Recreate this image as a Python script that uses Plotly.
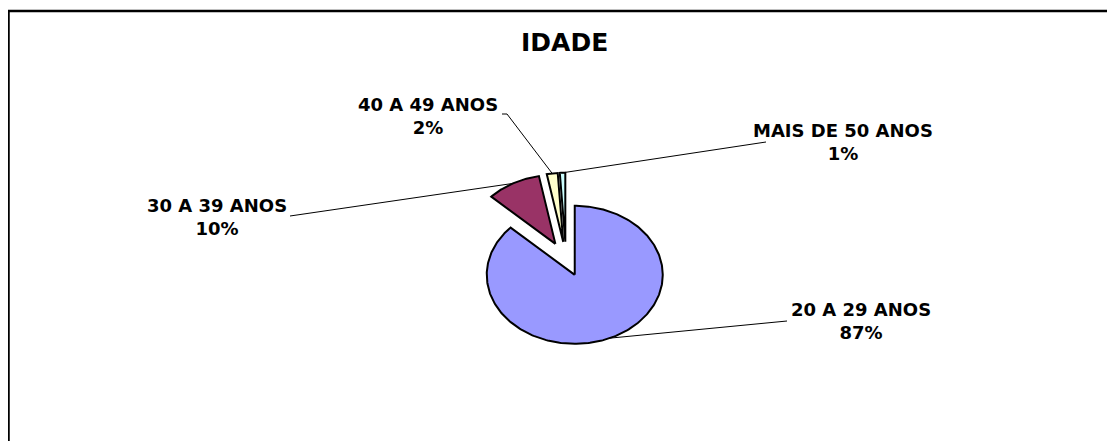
import math
import plotly.graph_objects as go

# ---- data ----
categories = ["20 A 29 ANOS", "30 A 39 ANOS", "40 A 49 ANOS", "MAIS DE 50 ANOS"]
values = [87, 10, 2, 1]
title_text = "IDADE"

# ---- styles ----
colors = ["#9999FF", "#993366", "#FFFFCC", "#CCFFFF"]
FONT = "DejaVu Sans"

# ---- layout (page pixel space) ----
W, H = 1115, 441
PAGE_OFF = 8               # default body margin of the html page
CX, CY = 566, 259          # pie centre
RX, RY = 88, 69            # ellipse radii
EXPLODE = 0.25             # explosion (fraction of radius)
label_pos = [(861, 321), (217, 217), (428, 116), (843, 142)]
leader_pts = [[(787, 321)], [(290, 216)], [(507, 114), (502, 114)], [(766, 142)]]

fig = go.Figure()
total = float(sum(values))
cum = 0.0
anchors = []
for i, v in enumerate(values):
    a0 = cum / total * 360.0
    a1 = (cum + v) / total * 360.0
    cum += v
    mid = math.radians((a0 + a1) / 2)
    vx = CX + EXPLODE * RX * math.sin(mid)
    vy = CY - EXPLODE * RY * math.cos(mid)
    n = max(4, int(a1 - a0) + 2)
    xs, ys = [vx], [vy]
    for k in range(n + 1):
        a = math.radians(a0 + (a1 - a0) * k / n)
        xs.append(vx + RX * math.sin(a))
        ys.append(vy - RY * math.cos(a))
    xs.append(vx)
    ys.append(vy)
    fig.add_trace(go.Scatter(x=xs, y=ys, mode="lines", fill="toself",
                             fillcolor=colors[i],
                             line=dict(color="black", width=2),
                             hoverinfo="skip", showlegend=False))
    anchors.append((vx + RX * math.sin(mid), vy - RY * math.cos(mid)))

# leader lines + labels
for i, v in enumerate(values):
    pts = [anchors[i]] + leader_pts[i]
    fig.add_trace(go.Scatter(x=[p[0] for p in pts], y=[p[1] for p in pts],
                             mode="lines", line=dict(color="black", width=1),
                             hoverinfo="skip", showlegend=False))
    pct = round(v / total * 100)
    fig.add_annotation(x=label_pos[i][0], y=label_pos[i][1],
                       text=f"{categories[i]}<br>{pct}%",
                       showarrow=False, xanchor="center", yanchor="middle",
                       align="center",
                       font=dict(family=FONT, size=18, color="black", weight="bold"))

fig.add_annotation(x=564, y=42, text=title_text, showarrow=False,
                   xanchor="center", yanchor="middle",
                   font=dict(family=FONT, size=25, color="black", weight="bold"))

# chart border (right and bottom edges lie outside the visible area)
fig.add_shape(type="rect", x0=8.5, y0=11, x1=1140, y1=470,
              line=dict(color="black", width=2.5), layer="above")

fig.update_layout(
    width=W - PAGE_OFF, height=H - PAGE_OFF,
    margin=dict(l=0, r=0, t=0, b=0),
    paper_bgcolor="white", plot_bgcolor="white",
    xaxis=dict(range=[PAGE_OFF, W], visible=False, fixedrange=True),
    yaxis=dict(range=[H, PAGE_OFF], visible=False, fixedrange=True),
    showlegend=False,
)

fig.write_html("out.html")
